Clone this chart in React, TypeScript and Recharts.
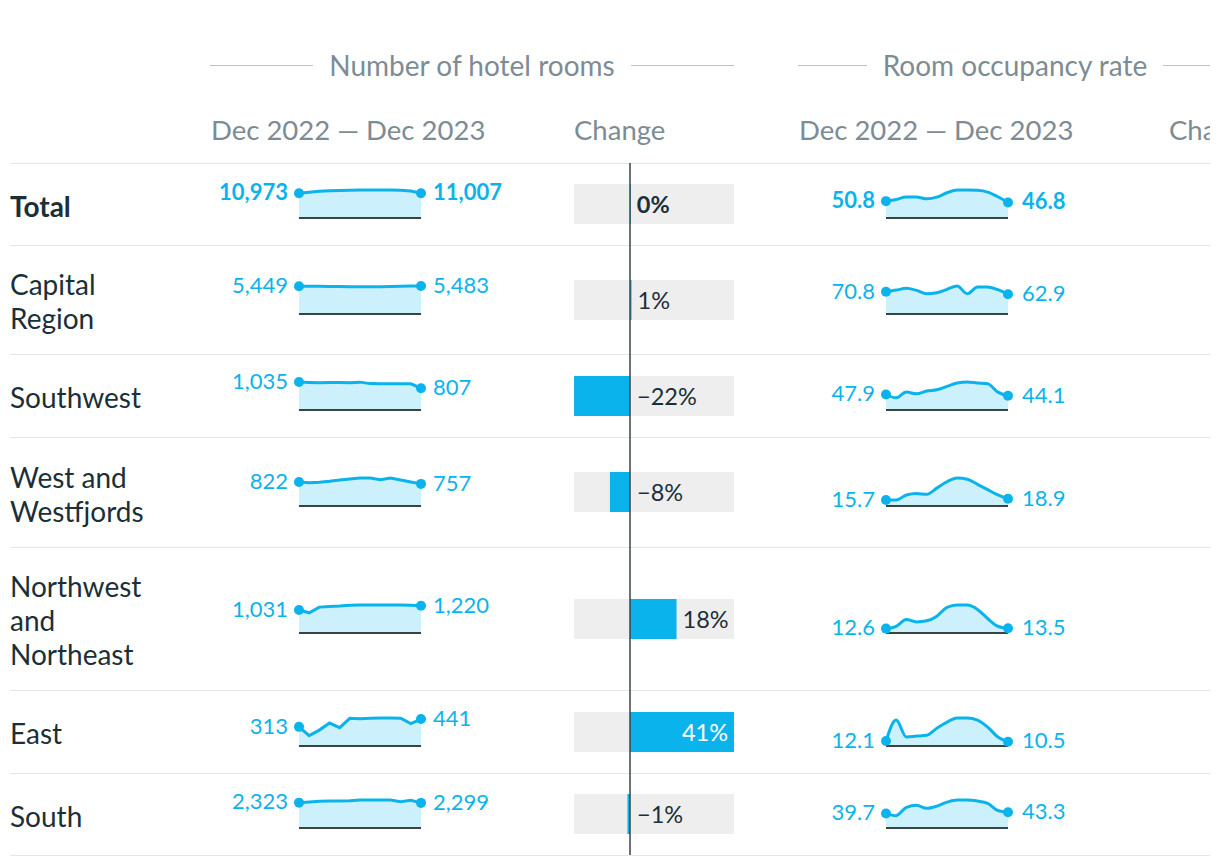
import React from 'react';
import {
  AreaChart,
  Area,
  XAxis,
  YAxis,
  ReferenceDot,
  ReferenceLine,
  BarChart,
  Bar,
  LabelList,
} from 'recharts';

// ---------- data ----------
const months = ['Dec 2022', 'Jan', 'Feb', 'Mar', 'Apr', 'May', 'Jun', 'Jul', 'Aug', 'Sep', 'Oct', 'Nov', 'Dec 2023'];
const regions = ['Total', 'Capital Region', 'Southwest', 'West and Westfjords', 'Northwest and Northeast', 'East', 'South'];

const roomsTotal = [10973, 11500, 11900, 12100, 12250, 12350, 12400, 12450, 12450, 12400, 12300, 12000, 11007];
const roomsCapital = [5449, 5440, 5420, 5400, 5380, 5350, 5330, 5330, 5340, 5370, 5420, 5470, 5483];
const roomsSouthwest = [1035, 1020, 1010, 1015, 1012, 1008, 1030, 975, 972, 972, 970, 968, 807];
const roomsWest = [822, 799, 811, 845, 890, 925, 959, 959, 902, 959, 890, 822, 757];
const roomsNorth = [1031, 905, 1159, 1190, 1206, 1238, 1254, 1254, 1254, 1254, 1254, 1238, 1220];
const roomsEast = [313, 170, 260, 375, 300, 452, 445, 455, 458, 458, 455, 365, 441];
const roomsSouth = [2323, 2383, 2444, 2474, 2474, 2504, 2565, 2565, 2565, 2565, 2414, 2534, 2299];

const occTotal = [50.8, 55.9, 63.0, 63.0, 58.0, 63.0, 76.0, 84.4, 84.4, 83.4, 78.2, 64.0, 46.8];
const occCapital = [70.8, 76.0, 81.6, 75.0, 64.4, 67.6, 78.3, 89.0, 64.4, 86.0, 86.0, 77.3, 62.9];
const occSouthwest = [47.9, 37.6, 55.4, 50.0, 58.5, 62.6, 73.0, 83.5, 86.6, 83.5, 81.4, 55.4, 44.1];
const occWest = [15.7, 15.7, 29.0, 33.0, 30.6, 47.0, 63.7, 73.6, 70.3, 57.0, 43.0, 29.0, 18.9];
const occNorth = [12.6, 19.4, 38.8, 32.0, 35.0, 48.5, 73.8, 80.6, 80.6, 68.0, 41.7, 19.4, 13.5];
const occEast = [12.1, 63.0, 22.0, 24.0, 26.0, 43.0, 58.0, 68.0, 68.0, 63.0, 46.0, 22.0, 10.5];
const occSouth = [39.7, 34.0, 57.0, 62.5, 54.0, 60.0, 71.0, 77.0, 77.0, 74.0, 68.0, 48.0, 43.3];

const roomsChange = [0.3, 0.6, -22.0, -7.9, 18.3, 40.9, -1.0];
const roomsChangeLabels = ['0%', '1%', '\u221222%', '\u22128%', '18%', '41%', '\u22121%'];

const roomsSeries = [roomsTotal, roomsCapital, roomsSouthwest, roomsWest, roomsNorth, roomsEast, roomsSouth];
const occSeries = [occTotal, occCapital, occSouthwest, occWest, occNorth, occEast, occSouth];

// ---------- style ----------
const BLUE = '#0ab3ec';
const LIGHT = '#ccf0fc';
const DARK = '#1b2f38';
const GREY_TEXT = '#7d8c94';
const RULE = '#e4e7e8';
const ROW_HEIGHTS = [82, 109, 83, 110, 143, 83, 82];
const TABLE_TOP = 155;

const fmtRooms = (v: number) => v.toLocaleString('en-US');
const fmtOcc = (v: number) => v.toFixed(1);

type SparkProps = {
  values: number[];
  fmt: (v: number) => string;
  bold: boolean;
  mLeft: number;
  mRight: number;
  endOffset: number;
  curve: 'linear' | 'monotone';
};

function Spark({ values, fmt, bold, mLeft, mRight, endOffset, curve }: SparkProps) {
  const data = months.map((m, i) => ({ m, v: values[i] }));
  const last = values.length - 1;
  const labelStyle = { fill: BLUE, fontSize: 22, fontWeight: bold ? 700 : 400, fontFamily: 'Lato' };
  return (
    <AreaChart width={320} height={60} data={data} margin={{ top: 16, bottom: 16, left: mLeft, right: mRight }} style={{ overflow: 'visible' }}>
      <XAxis dataKey="m" hide />
      <YAxis hide domain={[0, 'dataMax']} />
      <Area
        type={curve}
        dataKey="v"
        stroke={BLUE}
        strokeWidth={3}
        fill={LIGHT}
        fillOpacity={1}
        dot={false}
        activeDot={false}
        isAnimationActive={false}
      />
      <ReferenceLine y={0} stroke="#3b4347" strokeWidth={2} />
      <ReferenceDot
        x={months[0]}
        y={values[0]}
        r={5}
        fill={BLUE}
        stroke="none"
        label={{ value: fmt(values[0]), position: 'left', offset: 6, dy: -1, ...labelStyle }}
      />
      <ReferenceDot
        x={months[last]}
        y={values[last]}
        r={5}
        fill={BLUE}
        stroke="none"
        label={{ value: fmt(values[last]), position: 'right', offset: endOffset, dy: -1, ...labelStyle }}
      />
    </AreaChart>
  );
}

const CHANGE_W = 170;
const CHANGE_ML = 4;
const CHANGE_MR = 6;

function ChangeBar({ value, label, bold, height }: { value: number; label: string; bold: boolean; height: number }) {
  const data = [{ name: 'c', v: value }];
  const plotRight = CHANGE_W - CHANGE_MR;
  const renderLabel = (props: any) => {
    const x0 = Number(props.x);
    const w = Number(props.width);
    const y = Number(props.y);
    const h = Number(props.height);
    const right = Math.max(x0, x0 + w);
    const v = value;
    let tx: number;
    let anchor: 'start' | 'end' = 'start';
    let fill = DARK;
    if (v < 0) {
      tx = right + 7;
    } else if (right + 55 > plotRight) {
      tx = right - 6;
      anchor = 'end';
      fill = '#ffffff';
    } else {
      tx = right + 6;
    }
    return (
      <text
        key="lbl"
        x={tx}
        y={y + h / 2}
        dy="0.4em"
        textAnchor={anchor}
        fill={fill}
        fontSize={23.5}
        fontWeight={bold ? 700 : 400}
        fontFamily="Lato"
      >
        {label}
      </text>
    );
  };
  return (
    <BarChart
      width={CHANGE_W}
      height={height}
      data={data}
      layout="vertical"
      margin={{ top: 0, bottom: 0, left: CHANGE_ML, right: CHANGE_MR }}
      barCategoryGap={0}
    >
      <XAxis type="number" domain={[-22.03, 40.9]} hide allowDataOverflow />
      <YAxis type="category" dataKey="name" hide />
      <Bar dataKey="v" fill={BLUE} barSize={40} background={{ fill: '#eeeeee' }} isAnimationActive={false}>
        <LabelList dataKey="v" content={renderLabel} />
      </Bar>
      <ReferenceLine x={0} stroke="#3b4347" strokeWidth={1.5} />
    </BarChart>
  );
}

function GroupHeader({ left, width, title }: { left: number; width: number; title: string }) {
  return (
    <div
      style={{
        position: 'absolute',
        left,
        top: 41,
        width,
        height: 32,
        display: 'flex',
        alignItems: 'center',
      }}
    >
      <div style={{ flex: 1, height: 1, background: '#bcc4c8' }} />
      <div style={{ padding: '0 16px', fontSize: 28, color: GREY_TEXT, whiteSpace: 'nowrap' }}>{title}</div>
      <div style={{ flex: 1, height: 1, background: '#bcc4c8' }} />
    </div>
  );
}

function SubHeader({ left, text }: { left: number; text: string }) {
  return (
    <div
      style={{
        position: 'absolute',
        left,
        top: 106,
        height: 32,
        lineHeight: '32px',
        fontSize: 27.5,
        color: GREY_TEXT,
        whiteSpace: 'nowrap',
      }}
    >
      {text}
    </div>
  );
}

export default function App() {
  const tops: number[] = [];
  let acc = TABLE_TOP;
  ROW_HEIGHTS.forEach((h) => {
    tops.push(acc);
    acc += h;
  });
  const tableBottom = acc;

  return (
    <div
      style={{
        position: 'relative',
        width: 1202,
        height: 858,
        overflow: 'hidden',
        fontFamily: 'Lato, "Open Sans", sans-serif',
        background: '#ffffff',
      }}
    >
      <GroupHeader left={202} width={524} title="Number of hotel rooms" />
      <GroupHeader left={790} width={434} title="Room occupancy rate" />
      <SubHeader left={203} text={'Dec 2022 \u2014 Dec 2023'} />
      <SubHeader left={566} text="Change" />
      <SubHeader left={791} text={'Dec 2022 \u2014 Dec 2023'} />
      <SubHeader left={1161} text="Change" />

      {regions.map((name, i) => {
        const top = tops[i];
        const h = ROW_HEIGHTS[i];
        const center = top + h / 2;
        const bold = i === 0;
        return (
          <React.Fragment key={name}>
            <div style={{ position: 'absolute', left: 2, top, width: 1200, height: 1, background: RULE }} />
            <div
              style={{
                position: 'absolute',
                left: 2,
                top,
                height: h,
                width: 168,
                display: 'flex',
                alignItems: 'center',
                paddingTop: 3,
                boxSizing: 'border-box',
                fontSize: 28,
                lineHeight: '34px',
                color: DARK,
                fontWeight: bold ? 700 : 400,
              }}
            >
              {name}
            </div>
            <div style={{ position: 'absolute', left: 192, top: center - 30 }}>
              <Spark values={roomsSeries[i]} fmt={fmtRooms} bold={bold} mLeft={99} mRight={99} endOffset={7} curve="linear" />
            </div>
            <div style={{ position: 'absolute', left: 562, top }}>
              <ChangeBar value={roomsChange[i]} label={roomsChangeLabels[i]} bold={bold} height={h} />
            </div>
            <div style={{ position: 'absolute', left: 782, top: center - 30 }}>
              <Spark values={occSeries[i]} fmt={fmtOcc} bold={bold} mLeft={96} mRight={102} endOffset={9} curve="monotone" />
            </div>
          </React.Fragment>
        );
      })}
      <div style={{ position: 'absolute', left: 2, top: tableBottom, width: 1200, height: 1, background: RULE }} />
    </div>
  );
}
